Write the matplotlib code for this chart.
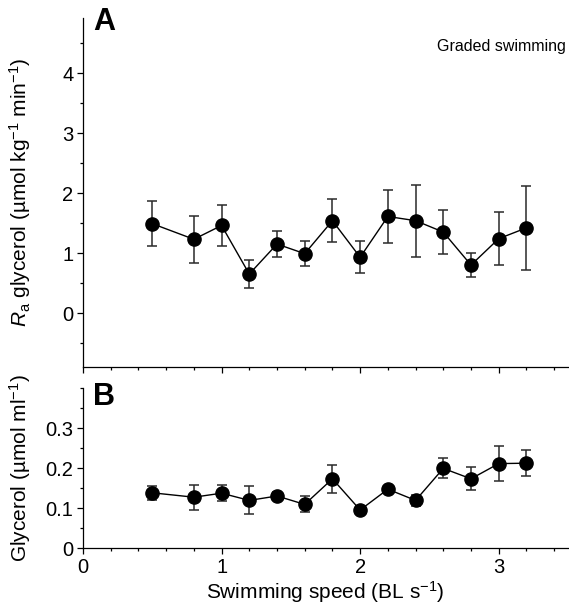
import numpy as np
import matplotlib
matplotlib.use("Agg")
from matplotlib import pyplot as plt
from matplotlib.ticker import MultipleLocator

plt.rcParams['font.family'] = ['Liberation Sans', 'DejaVu Sans']
plt.rcParams['mathtext.fontset'] = 'custom'
plt.rcParams['mathtext.rm'] = 'Liberation Sans'
plt.rcParams['mathtext.it'] = 'Liberation Sans:italic'

# swimming speed (BL s-1)
speed = [0.5, 0.8, 1.0, 1.2, 1.4, 1.6, 1.8, 2.0, 2.2, 2.4, 2.6, 2.8, 3.0, 3.2]

# panel A: Ra glycerol (umol kg-1 min-1), mean and s.e.m.
ra_mean = [1.49, 1.23, 1.46, 0.65, 1.15, 0.99, 1.54, 0.93, 1.61, 1.54, 1.35, 0.80, 1.24, 1.42]
ra_err = [0.37, 0.39, 0.34, 0.23, 0.22, 0.21, 0.36, 0.27, 0.44, 0.60, 0.37, 0.20, 0.44, 0.70]

# panel B: plasma glycerol (umol ml-1), mean and s.e.m.
gly_mean = [0.138, 0.127, 0.137, 0.119, 0.130, 0.109, 0.173, 0.095, 0.147, 0.119, 0.199, 0.173, 0.211, 0.212]
gly_err = [0.018, 0.031, 0.020, 0.035, 0.011, 0.020, 0.035, 0.010, 0.008, 0.013, 0.025, 0.029, 0.043, 0.033]

TICK_FS = 14.5
LABEL_FS = 15


def style_axis(ax):
	ax.spines['top'].set_visible(False)
	ax.spines['right'].set_visible(False)
	ax.spines['left'].set_linewidth(0.9)
	ax.spines['bottom'].set_linewidth(0.9)
	ax.set_xlim(0, 3.5)
	ax.xaxis.set_major_locator(MultipleLocator(1))
	ax.xaxis.set_minor_locator(MultipleLocator(0.2))
	ax.tick_params(which='major', direction='out', length=4, width=0.9, labelsize=TICK_FS, pad=3)
	ax.tick_params(which='minor', direction='out', length=2.2, width=0.9)


def draw_series(ax, y, err):
	ax.errorbar(speed, y, yerr=err, fmt='none', ecolor='#2a2a2a', elinewidth=1.1,
				capsize=3.3, capthick=1.1, zorder=2)
	ax.plot(speed, y, color='black', lw=1.0, marker='o', markersize=9.5,
			markerfacecolor='black', markeredgecolor='black', zorder=3)


fig = plt.figure(figsize=(5.69, 6.07), dpi=100)
axA = fig.add_axes([83 / 569, 1 - 367 / 607, 485 / 569, 349 / 607])
axB = fig.add_axes([83 / 569, 1 - 548 / 607, 485 / 569, 160 / 607])

# panel A
style_axis(axA)
draw_series(axA, ra_mean, ra_err)
axA.set_ylim(-0.9, 4.92)
axA.yaxis.set_minor_locator(MultipleLocator(0.5))
axA.set_yticks([0, 1, 2, 3, 4])
axA.tick_params(axis='x', labelbottom=False)
axA.set_ylabel(r'$R_{\mathrm{a}}$ glycerol (µmol kg$^{-1}$ min$^{-1}$)', fontsize=LABEL_FS)
axA.yaxis.set_label_coords(-0.103, 0.5)
axA.text(0.995, 0.905, 'Graded swimming', transform=axA.transAxes,
		 ha='right', va='baseline', fontsize=11.5)

# panel B
style_axis(axB)
draw_series(axB, gly_mean, gly_err)
axB.set_ylim(0, 0.4)
axB.set_yticks([0, 0.1, 0.2, 0.3])
axB.set_yticklabels(['0', '0.1', '0.2', '0.3'])
axB.yaxis.set_minor_locator(MultipleLocator(0.05))
axB.set_ylabel(r'Glycerol (µmol ml$^{-1}$)', fontsize=LABEL_FS)
axB.yaxis.set_label_coords(-0.103, 0.5)
axB.set_xlabel(r'Swimming speed (BL s$^{-1}$)', fontsize=LABEL_FS, labelpad=2)

fig.text(93 / 569, 1 - 7 / 607, 'A', fontsize=22, fontweight='bold', va='top', ha='left')
fig.text(93 / 569, 1 - 382 / 607, 'B', fontsize=22, fontweight='bold', va='top', ha='left')

fig.savefig('out.png', dpi=100)
